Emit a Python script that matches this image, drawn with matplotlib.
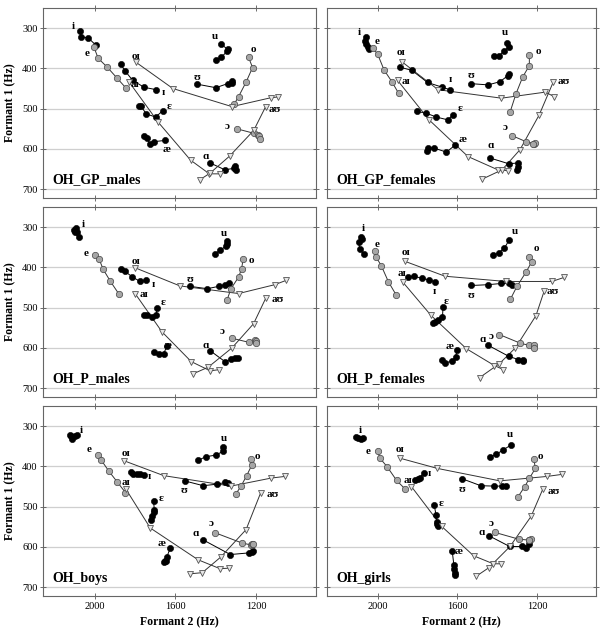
import matplotlib
matplotlib.use("Agg")
import matplotlib.pyplot as plt

# vowel groups and how they are drawn
MONO = ["i", "ɪ", "ɛ", "æ", "ɑ", "ʊ", "u"]
GRAY = ["e", "o", "ɔ"]
DIPH = ["oɪ", "aɪ", "aʊ"]

# each vowel: (F2 values, F1 values) along the trajectory
GP_MALES = {
    "i": ([2072, 2068, 2033, 1995], [307, 322, 324, 342]),
    "e": ([2005, 1983, 1938, 1888, 1845], [346, 375, 397, 425, 449]),
    "ɪ": ([1872, 1850, 1812, 1755, 1695], [389, 406, 430, 447, 453]),
    "ɛ": ([1783, 1772, 1745, 1698, 1663], [493, 493, 513, 521, 505]),
    "æ": ([1755, 1742, 1728, 1705, 1653], [569, 573, 587, 582, 579]),
    "ʊ": ([1495, 1400, 1342, 1322, 1318], [439, 448, 438, 432, 436]),
    "u": ([1398, 1372, 1345, 1342, 1375], [379, 372, 358, 352, 340]),
    "o": ([1238, 1218, 1250, 1287, 1308], [372, 398, 434, 470, 488]),
    "ɔ": ([1297, 1213, 1192, 1188, 1183], [550, 561, 565, 568, 576]),
    "ɑ": ([1428, 1355, 1308, 1303, 1302], [635, 652, 648, 642, 652]),
    "oɪ": ([1795, 1613, 1320, 1128, 1092], [385, 450, 495, 473, 471]),
    "aɪ": ([1828, 1685, 1525, 1432, 1378], [435, 534, 628, 662, 662]),
    "aʊ": ([1480, 1428, 1332, 1212, 1153], [677, 660, 618, 554, 495]),
}
GP_MALES_LBL = {
    "i": (2108, 296), "e": (2038, 362), "oɪ": (1795, 370), "aɪ": (1800, 441),
    "ɪ": (1662, 461), "ɛ": (1633, 495), "æ": (1642, 602), "ʊ": (1492, 422),
    "u": (1405, 322), "o": (1212, 354), "ɔ": (1345, 544), "ɑ": (1450, 619),
    "aʊ": (1108, 503),
}

GP_FEMALES = {
    "i": ([2058, 2065, 2060, 2049, 2043], [323, 331, 339, 348, 353]),
    "e": ([2023, 2000, 1967, 1928, 1894], [350, 364, 404, 433, 462]),
    "ɪ": ([1887, 1827, 1749, 1674, 1637], [397, 405, 435, 447, 453]),
    "ɛ": ([1804, 1757, 1704, 1646, 1621], [507, 511, 521, 528, 515]),
    "æ": ([1752, 1745, 1716, 1654, 1609], [604, 598, 598, 608, 590]),
    "ʊ": ([1529, 1445, 1385, 1346, 1338], [438, 441, 433, 418, 415]),
    "u": ([1413, 1388, 1363, 1338, 1350], [370, 368, 356, 346, 337]),
    "o": ([1238, 1238, 1272, 1305, 1335], [366, 393, 422, 463, 509]),
    "ɔ": ([1325, 1255, 1213, 1212, 1222], [567, 582, 587, 586, 587]),
    "ɑ": ([1433, 1341, 1297, 1297, 1300], [623, 637, 635, 644, 652]),
    "oɪ": ([1879, 1696, 1378, 1158, 1114], [383, 453, 474, 459, 470]),
    "aɪ": ([1899, 1741, 1546, 1396, 1346], [430, 528, 619, 652, 654]),
    "aʊ": ([1474, 1375, 1285, 1188, 1119], [675, 652, 602, 515, 435]),
}
GP_FEMALES_LBL = {
    "i": (2090, 310), "e": (2000, 333), "oɪ": (1884, 360), "aɪ": (1857, 432),
    "ɪ": (1637, 428), "ɛ": (1588, 499), "æ": (1571, 577), "ʊ": (1529, 418),
    "u": (1358, 312), "o": (1192, 358), "ɔ": (1358, 548), "ɑ": (1433, 591),
    "aʊ": (1066, 433),
}

P_MALES = {
    "i": ([2105, 2095, 2100, 2088, 2080], [306, 303, 312, 311, 325]),
    "e": ([1997, 1978, 1958, 1922, 1882], [370, 380, 405, 435, 465]),
    "ɪ": ([1872, 1850, 1813, 1775, 1745], [405, 410, 424, 435, 432]),
    "ɛ": ([1758, 1742, 1717, 1695, 1692], [519, 519, 523, 519, 501]),
    "æ": ([1705, 1683, 1658, 1642], [609, 614, 614, 595]),
    "ʊ": ([1530, 1442, 1385, 1355, 1335], [447, 453, 447, 443, 438]),
    "u": ([1402, 1380, 1352, 1345, 1345], [366, 358, 348, 341, 334]),
    "o": ([1265, 1272, 1287, 1325, 1345], [380, 403, 424, 453, 482]),
    "ɔ": ([1320, 1238, 1208, 1200, 1203], [576, 586, 580, 584, 589]),
    "ɑ": ([1428, 1355, 1325, 1303, 1292], [607, 634, 628, 626, 624]),
    "oɪ": ([1800, 1578, 1287, 1108, 1050], [401, 446, 465, 443, 432]),
    "aɪ": ([1800, 1667, 1522, 1428, 1383], [465, 560, 634, 657, 654]),
    "aʊ": ([1515, 1438, 1320, 1213, 1153], [665, 648, 600, 540, 477]),
}
P_MALES_LBL = {
    "i": (2058, 294), "e": (2045, 366), "oɪ": (1795, 385), "aɪ": (1758, 468),
    "ɪ": (1708, 443), "ɛ": (1662, 488), "æ": (1638, 593), "ʊ": (1530, 430),
    "u": (1358, 317), "o": (1222, 383), "ɔ": (1367, 560), "ɑ": (1450, 593),
    "aʊ": (1095, 481),
}

P_FEMALES = {
    "i": ([2081, 2078, 2093, 2090, 2070], [325, 329, 336, 355, 366]),
    "e": ([2015, 2007, 1980, 1945, 1907], [360, 374, 397, 436, 468]),
    "ɪ": ([1845, 1815, 1779, 1741, 1709], [424, 422, 427, 431, 436]),
    "ɛ": ([1671, 1674, 1694, 1711, 1724], [498, 523, 530, 535, 538]),
    "æ": ([1601, 1608, 1627, 1659, 1674], [606, 623, 633, 637, 629]),
    "ʊ": ([1529, 1445, 1380, 1341, 1325], [445, 443, 440, 440, 443]),
    "u": ([1421, 1392, 1363, 1338], [370, 364, 352, 331]),
    "o": ([1238, 1227, 1255, 1300, 1333], [373, 387, 412, 447, 479]),
    "ɔ": ([1388, 1285, 1238, 1217, 1217], [567, 588, 594, 592, 600]),
    "ɑ": ([1443, 1341, 1293, 1272, 1272], [594, 621, 629, 633, 629]),
    "oɪ": ([1862, 1661, 1355, 1125, 1064], [385, 422, 435, 435, 425]),
    "aɪ": ([1874, 1732, 1554, 1413, 1368], [436, 519, 602, 644, 654]),
    "aʊ": ([1488, 1388, 1308, 1205, 1163], [674, 639, 600, 520, 458]),
}
P_FEMALES_LBL = {
    "i": (2070, 304), "e": (2000, 344), "oɪ": (1857, 363), "aɪ": (1879, 414),
    "ɪ": (1717, 461), "ɛ": (1654, 484), "æ": (1637, 596), "ʊ": (1529, 469),
    "u": (1308, 312), "o": (1205, 352), "ɔ": (1428, 571), "ɑ": (1471, 579),
    "aʊ": (1122, 461),
}

BOYS = {
    "i": ([2122, 2112, 2117, 2100, 2088], [321, 331, 325, 325, 322]),
    "e": ([1983, 1967, 1930, 1888, 1848], [371, 385, 412, 439, 465]),
    "ɪ": ([1822, 1808, 1792, 1775, 1758], [414, 418, 420, 420, 421]),
    "ɛ": ([1708, 1705, 1707, 1717, 1720], [487, 508, 513, 524, 534]),
    "æ": ([1625, 1642, 1647, 1653, 1658], [602, 624, 634, 636, 638]),
    "ʊ": ([1555, 1462, 1392, 1355, 1342], [436, 448, 444, 440, 441]),
    "u": ([1488, 1450, 1400, 1362, 1362], [385, 376, 372, 362, 353]),
    "o": ([1225, 1222, 1247, 1275, 1300], [381, 397, 423, 449, 468]),
    "ɔ": ([1403, 1272, 1228, 1222, 1217], [565, 590, 595, 594, 592]),
    "ɑ": ([1465, 1328, 1238, 1217, 1222], [582, 619, 615, 609, 613]),
    "oɪ": ([1855, 1658, 1325, 1125, 1058], [386, 423, 449, 429, 425]),
    "aɪ": ([1845, 1725, 1488, 1380, 1337], [457, 553, 632, 654, 653]),
    "aʊ": ([1530, 1467, 1375, 1250, 1178], [667, 664, 625, 557, 466]),
}
BOYS_LBL = {
    "i": (2067, 312), "e": (2028, 358), "oɪ": (1845, 368), "aɪ": (1845, 441),
    "ɪ": (1728, 426), "ɛ": (1670, 480), "æ": (1670, 592), "ʊ": (1558, 459),
    "u": (1358, 331), "o": (1192, 376), "ɔ": (1422, 542), "ɑ": (1497, 566),
    "aʊ": (1120, 470),
}

GIRLS = {
    "i": ([2106, 2096, 2083, 2074], [326, 329, 331, 330]),
    "e": ([2000, 1987, 1950, 1904, 1860], [363, 380, 402, 435, 457]),
    "ɪ": ([1810, 1799, 1789, 1766], [434, 432, 428, 416]),
    "ɛ": ([1716, 1706, 1701, 1700, 1698], [495, 521, 538, 543, 549]),
    "æ": ([1625, 1617, 1616, 1612, 1611], [611, 644, 656, 665, 669]),
    "ʊ": ([1574, 1482, 1413, 1376, 1353], [431, 448, 449, 449, 448]),
    "u": ([1436, 1403, 1370, 1330], [376, 370, 359, 347]),
    "o": ([1215, 1208, 1238, 1261, 1294], [382, 405, 430, 450, 475]),
    "ɔ": ([1411, 1290, 1241, 1229, 1238], [564, 581, 583, 581, 582]),
    "ɑ": ([1442, 1337, 1277, 1254, 1241], [572, 599, 599, 603, 592]),
    "oɪ": ([1885, 1700, 1386, 1150, 1076], [380, 405, 436, 425, 420]),
    "aɪ": ([1830, 1678, 1518, 1419, 1378], [450, 549, 622, 642, 642]),
    "aʊ": ([1505, 1442, 1335, 1229, 1170], [673, 652, 599, 524, 456]),
}
GIRLS_LBL = {
    "i": (2087, 310), "e": (2046, 364), "oɪ": (1885, 357), "aɪ": (1848, 434),
    "ɪ": (1739, 417), "ɛ": (1683, 491), "æ": (1591, 611), "ʊ": (1574, 458),
    "u": (1337, 322), "o": (1183, 376), "ɔ": (1431, 543), "ɑ": (1475, 564),
    "aʊ": (1117, 463),
}

PANELS = [
    ("OH_GP_males", GP_MALES, GP_MALES_LBL),
    ("OH_GP_females", GP_FEMALES, GP_FEMALES_LBL),
    ("OH_P_males", P_MALES, P_MALES_LBL),
    ("OH_P_females", P_FEMALES, P_FEMALES_LBL),
    ("OH_boys", BOYS, BOYS_LBL),
    ("OH_girls", GIRLS, GIRLS_LBL),
]
Y_TICKS = [300, 400, 500, 600, 700]
X_TICKS = [2000, 1600, 1200]

plt.rcParams["font.family"] = ["Liberation Serif", "DejaVu Serif"]

W, H = 606, 637
fig = plt.figure(figsize=(W / 100, H / 100), dpi=100)

col_x = [(43.3, 315.7), (326.7, 595.7)]
row_y = [(8, 198), (207, 397), (406, 596)]

for k, (name, data, labels) in enumerate(PANELS):
    r, c = divmod(k, 2)
    x0, x1 = col_x[c]
    y0, y1 = row_y[r]
    ax = fig.add_axes([x0 / W, 1 - y1 / H, (x1 - x0) / W, (y1 - y0) / H])
    ax.set_xlim(2255, 905)
    ax.set_ylim(722, 250)
    ax.set_yticks(Y_TICKS)
    ax.set_xticks(X_TICKS)
    ax.yaxis.grid(True, color="#cfcfcf", lw=0.9)
    ax.set_axisbelow(True)
    ax.tick_params(direction="inout", length=4, width=0.6, color="#555555",
                   top=True, right=True, labelsize=7.5, pad=2)
    for sp in ax.spines.values():
        sp.set_color("#666666")
        sp.set_linewidth(0.8)
    if c == 0:
        ax.set_ylabel("Formant 1 (Hz)", fontsize=8.5, fontweight="bold", labelpad=4)
    else:
        ax.tick_params(labelleft=False)
    if r == 2:
        ax.set_xlabel("Formant 2 (Hz)", fontsize=8.5, fontweight="bold", labelpad=4)
    else:
        ax.tick_params(labelbottom=False)

    for v in MONO:
        f2, f1 = data[v]
        ax.plot(f2, f1, "-", color="black", lw=0.7, zorder=3)
        ax.plot(f2, f1, "o", color="black", ms=4.5, mec="black", mew=0.4, zorder=4)
    for v in GRAY:
        f2, f1 = data[v]
        ax.plot(f2, f1, "-", color="#333333", lw=0.7, zorder=3)
        ax.plot(f2, f1, "o", mfc="#a6a6a6", mec="#444444", ms=4.6, mew=0.5, zorder=4)
    for v in DIPH:
        f2, f1 = data[v]
        ax.plot(f2, f1, "-", color="#333333", lw=0.7, zorder=3)
        ax.plot(f2, f1, "v", mfc="#e6e6e6", mec="#555555", ms=4.8, mew=0.6, zorder=4)

    for v, (lx, ly) in labels.items():
        ax.text(lx, ly, v, fontsize=8, fontweight="bold", ha="center", va="center",
                zorder=5)

    ax.text(0.035, 0.06, name, transform=ax.transAxes, fontsize=10,
            fontweight="bold", ha="left", va="bottom", zorder=5)

fig.savefig("out.png", dpi=100)
